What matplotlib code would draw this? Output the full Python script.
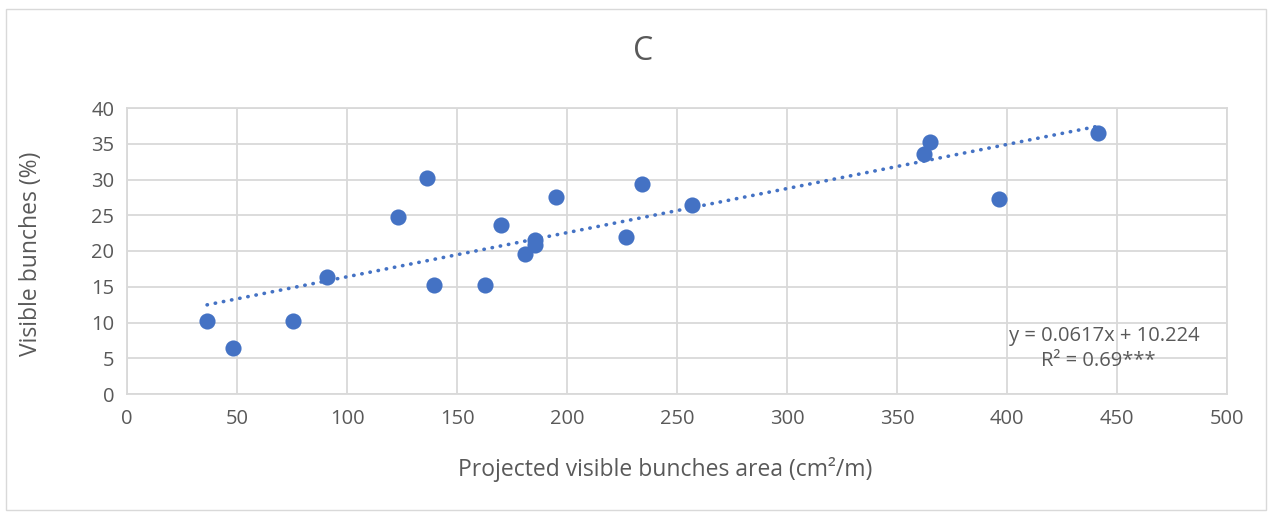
import matplotlib
matplotlib.use("Agg")
import matplotlib.pyplot as plt
from matplotlib.patches import Rectangle

plt.rcParams['font.family'] = ['Open Sans', 'DejaVu Sans']

# Data
area = [36.4, 48.2, 75.5, 90.9, 123.2, 136.2, 139.5, 162.9, 170.2, 180.8,
        185.3, 185.3, 194.8, 226.8, 234.1, 257.0, 362.2, 365.1, 396.4, 441.4]
visible = [10.2, 6.4, 10.2, 16.4, 24.7, 30.2, 15.2, 15.3, 23.7, 19.6,
           21.6, 20.9, 27.6, 21.9, 29.4, 26.5, 33.55, 35.3, 27.3, 36.5]
slope = 0.0617
intercept = 10.224
r2_label = "R² = 0.69***"
eq_label = "y = 0.0617x + 10.224"
title = "C"
xlabel = "Projected visible bunches area (cm²/m)"
ylabel = "Visible bunches (%)"
xticks = [0, 50, 100, 150, 200, 250, 300, 350, 400, 450, 500]
yticks = [0, 5, 10, 15, 20, 25, 30, 35, 40]

TXT = '#595959'
GRID = '#d9d9d9'
BLUE = '#4472C4'

W, H = 1274, 512
fig = plt.figure(figsize=(W / 100, H / 100), dpi=100)
fig.patches.append(Rectangle((6 / W, 2 / H), 1260 / W, 501 / H, transform=fig.transFigure,
                             fill=False, edgecolor=GRID, linewidth=1))
ax = fig.add_axes([127 / W, 1 - 394 / H, 1100 / W, 286 / H])

ax.set_xlim(0, 500)
ax.set_ylim(0, 40)
ax.set_xticks(xticks)
ax.set_yticks(yticks)
ax.grid(True, color=GRID, linewidth=1.3)
ax.set_axisbelow(True)
for s in ax.spines.values():
    s.set_color(GRID)
    s.set_linewidth(1.3)
ax.tick_params(length=0, labelsize=14.5, colors=TXT)
ax.tick_params(axis='x', pad=11)
ax.tick_params(axis='y', pad=9)

ax.scatter(area, visible, s=135, color=BLUE, zorder=3, linewidths=0)

xmin, xmax = min(area), max(area)
ax.plot([xmin, xmax], [slope * xmin + intercept, slope * xmax + intercept],
        color=BLUE, linewidth=2.6, linestyle=(0, (0.1, 2.2)),
        dash_capstyle='round', zorder=4)

fig.text(1104 / W, 1 - 336 / H, eq_label, fontsize=14.5, color=TXT,
         ha='center', va='center')
fig.text(1098 / W, 1 - 361 / H, r2_label, fontsize=14.5, color=TXT,
         ha='center', va='center')

fig.text(643 / W, 1 - 52 / H, title, fontsize=23, color=TXT, ha='center', va='center')
fig.text(665 / W, 1 - 469 / H, xlabel, fontsize=16.5, color=TXT, ha='center', va='center')
fig.text(31 / W, 1 - 254 / H, ylabel, fontsize=16.5, color=TXT, ha='center', va='center',
         rotation=90)

fig.savefig('out.png', dpi=100)
